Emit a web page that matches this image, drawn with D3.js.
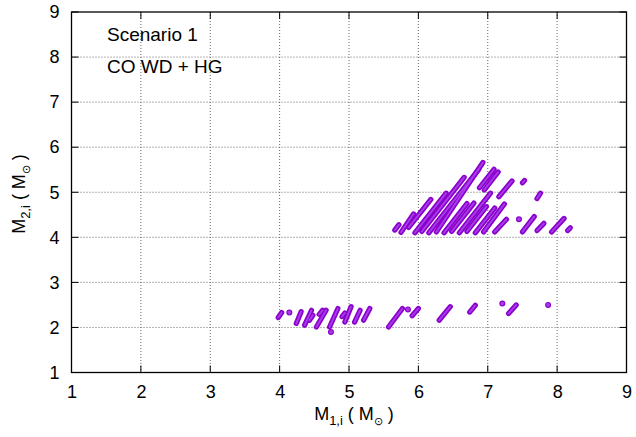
<!DOCTYPE html>
<html><head><meta charset="utf-8">
<script src="https://cdn.jsdelivr.net/npm/d3@7"></script>
<style>body{margin:0;background:#fff}svg{display:block}text{font-family:"Liberation Sans",Arial,sans-serif}</style>
</head><body><svg id="c" width="636" height="437"></svg>
<script>
// axis ticks
const xTicks = [1,2,3,4,5,6,7,8,9];
const yTicks = [1,2,3,4,5,6,7,8,9];
const annotations = ["Scenario 1", "CO WD + HG"];
// streaks of points: [M1 start, M2 start, M1 end, M2 end]
const upperStreaks = [
  [5.66,4.16,5.72,4.28],[5.75,4.11,5.93,4.52],[5.86,4.22,6.18,4.84],
  [5.95,4.10,6.40,4.98],[6.05,4.13,6.66,5.33],[6.15,4.10,6.87,5.51],
  [6.26,4.12,6.93,5.66],
  [6.37,4.10,6.70,4.75],[6.88,5.10,7.09,5.51],
  [6.48,4.13,6.80,4.76],[6.95,5.05,7.15,5.45],
  [6.59,4.10,7.04,4.98],
  [6.70,4.13,6.98,4.68],[7.16,4.90,7.35,5.25],
  [6.82,4.10,7.10,4.65],[6.94,4.12,7.24,4.74],[7.10,4.12,7.27,4.40],
  [7.50,5.21,7.53,5.26],[7.71,4.86,7.76,4.98],[7.50,4.12,7.67,4.46],
  [7.71,4.15,7.81,4.31],[7.92,4.12,8.10,4.42],[8.15,4.15,8.19,4.21]
];
const lowerStreaks = [
  [3.98,2.22,4.03,2.33],[4.24,2.09,4.31,2.35],[4.36,2.05,4.46,2.38],
  [4.43,2.16,4.48,2.27],[4.53,2.01,4.67,2.38],[4.57,2.29,4.62,2.38],
  [4.72,2.01,4.84,2.42],[4.94,2.12,5.03,2.46],[4.90,2.24,4.94,2.32],
  [5.08,2.12,5.16,2.38],[5.21,2.16,5.30,2.42],[5.57,2.01,5.77,2.42],
  [5.91,2.26,6.00,2.42],[6.30,2.16,6.46,2.46],[6.74,2.34,6.82,2.49],
  [7.30,2.31,7.41,2.50]
];
// isolated points
const dotM1 = [4.14,4.74,5.85,7.21,7.87,7.45];
const dotM2 = [2.33,1.90,2.40,2.53,2.50,4.40];

const svg = d3.select("#c");
const L=71.5,R=626.5,T=12,B=372.5;
const x = d3.scaleLinear().domain([1,9]).range([L,R]);
const y = d3.scaleLinear().domain([1,9]).range([B,T]);

// grid
const g = svg.append("g");
g.selectAll("line.gx").data(xTicks.slice(1,-1)).join("line")
  .attr("x1",d=>x(d)).attr("x2",d=>x(d)).attr("y1",T).attr("y2",B)
  .attr("stroke","#666").attr("stroke-width",1).attr("stroke-dasharray","1,2");
g.selectAll("line.gy").data(yTicks.slice(1,-1)).join("line")
  .attr("y1",d=>y(d)).attr("y2",d=>y(d)).attr("x1",L).attr("x2",R)
  .attr("stroke","#666").attr("stroke-width",1).attr("stroke-dasharray","1,2");

// inward ticks on all sides
const tk=7;
xTicks.forEach(v=>{
  svg.append("line").attr("x1",x(v)).attr("x2",x(v)).attr("y1",B).attr("y2",B-tk).attr("stroke","#000");
  svg.append("line").attr("x1",x(v)).attr("x2",x(v)).attr("y1",T).attr("y2",T+tk).attr("stroke","#000");
});
yTicks.forEach(v=>{
  svg.append("line").attr("y1",y(v)).attr("y2",y(v)).attr("x1",L).attr("x2",L+tk).attr("stroke","#000");
  svg.append("line").attr("y1",y(v)).attr("y2",y(v)).attr("x1",R).attr("x2",R-tk).attr("stroke","#000");
});

// axes labels via d3 axes
const xa = svg.append("g").attr("transform",`translate(0,${B})`)
  .call(d3.axisBottom(x).tickValues(xTicks).tickSize(0).tickPadding(13).tickFormat(d3.format("d")));
const ya = svg.append("g").attr("transform",`translate(${L},0)`)
  .call(d3.axisLeft(y).tickValues(yTicks).tickSize(0).tickPadding(12).tickFormat(d3.format("d")));
[xa,ya].forEach(a=>{a.select(".domain").remove();a.selectAll("text").attr("font-size",18).attr("fill","#000").attr("font-family","'Liberation Sans',Arial,sans-serif");});

// frame
svg.append("rect").attr("x",L).attr("y",T).attr("width",R-L).attr("height",B-T)
  .attr("fill","none").attr("stroke","#000").attr("stroke-width",1.3);

// data streaks
const all = upperStreaks.concat(lowerStreaks);
const sg = svg.append("g");
sg.selectAll("line.o").data(all).join("line")
  .attr("x1",d=>x(d[0])).attr("y1",d=>y(d[1])).attr("x2",d=>x(d[2])).attr("y2",d=>y(d[3]))
  .attr("stroke","#8a00cc").attr("stroke-width",5.2).attr("stroke-linecap","round");
sg.selectAll("line.i").data(all).join("line")
  .attr("x1",d=>x(d[0])).attr("y1",d=>y(d[1])).attr("x2",d=>x(d[2])).attr("y2",d=>y(d[3]))
  .attr("stroke","#a83ee8").attr("stroke-width",1.8).attr("stroke-linecap","round");
sg.selectAll("circle").data(dotM1).join("circle")
  .attr("cx",d=>x(d)).attr("cy",(d,i)=>y(dotM2[i])).attr("r",2.4)
  .attr("fill","#a83ee8").attr("stroke","#8a00cc").attr("stroke-width",1.2);

// annotations
svg.append("text").attr("x",107).attr("y",41).attr("font-size",19).text(annotations[0]);
svg.append("text").attr("x",107).attr("y",73).attr("font-size",19).text(annotations[1]);

// axis titles
function title(sel, sub){
  sel.append("tspan").text("M");
  sel.append("tspan").attr("font-size",13).attr("dy",5).text(sub);
  sel.append("tspan").attr("dy",-5).text(" ( M");
  sel.append("tspan").attr("font-size",11).attr("dy",5).text("\u2299");
  sel.append("tspan").attr("dy",-5).text(" )");
}
const xt = svg.append("text").attr("x",354).attr("y",420).attr("font-size",18).attr("text-anchor","middle");
title(xt,"1,i");
const yt = svg.append("text").attr("transform","translate(25,194) rotate(-90)").attr("font-size",18).attr("text-anchor","middle");
title(yt,"2,i");
</script></body></html>
